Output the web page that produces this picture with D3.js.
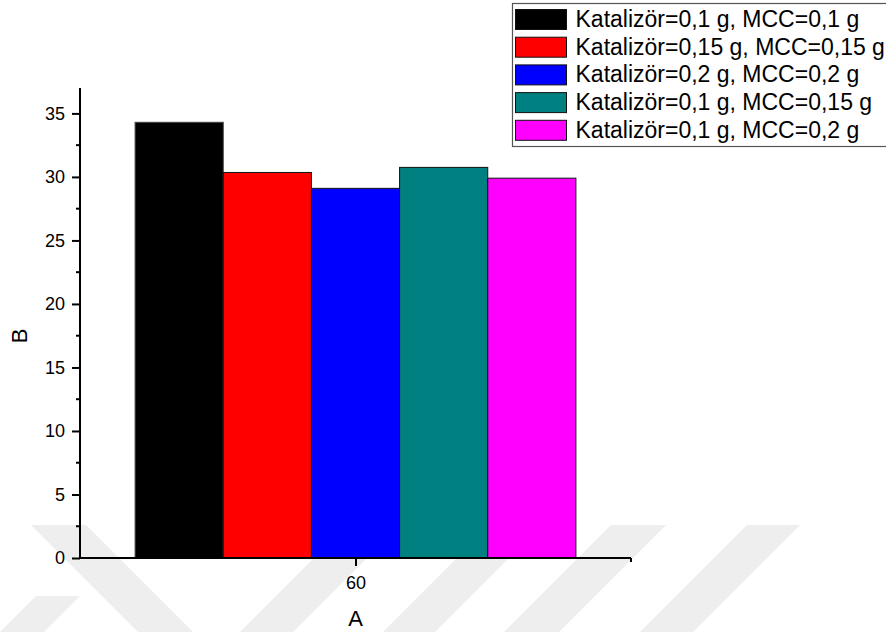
<!DOCTYPE html>
<html>
<head>
<meta charset="utf-8">
<script src="https://cdn.jsdelivr.net/npm/d3@7"></script>
<style>
  html, body { margin: 0; padding: 0; background: #fff; }
  svg { display: block; }
  text { font-family: Arial, "Liberation Sans", sans-serif; fill: #000; }
</style>
</head>
<body>
<script>
// Category on the x axis and the five catalyst / MCC combinations
const categories = [60];
const seriesNames = [
  "Katalizör=0,1 g, MCC=0,1 g",
  "Katalizör=0,15 g, MCC=0,15 g",
  "Katalizör=0,2 g, MCC=0,2 g",
  "Katalizör=0,1 g, MCC=0,15 g",
  "Katalizör=0,1 g, MCC=0,2 g"
];
const seriesValues = [34.3, 30.35, 29.1, 30.75, 29.9];
const seriesColors = ["#000000", "#ff0000", "#0000ff", "#008080", "#ff00ff"];
const yTicks = [0, 5, 10, 15, 20, 25, 30, 35];
const xTicks = [60];
const xLabel = "A";
const yLabel = "B";

const W = 886, H = 632;
const svg = d3.select("body").append("svg").attr("width", W).attr("height", H);

// faint diagonal background stripes
const wm = svg.append("g").attr("fill", "#eeeeee");
function stripe(xBottom, dir, yTop, yBot, width) {
  const h = yBot - yTop;
  const xt = xBottom + dir * h;
  return [[xBottom, yBot], [xBottom + width, yBot], [xt + width, yTop], [xt, yTop]];
}
const stripes = [
  stripe(138, -1, 525, 632, 55),
  stripe(0, 1, 596, 632, 44),
  stripe(240, 1, 525, 632, 53),
  stripe(383, 1, 525, 632, 52),
  stripe(504, 1, 525, 632, 55),
  stripe(640, 1, 525, 632, 53)
];
wm.selectAll("polygon").data(stripes).join("polygon")
  .attr("points", d => d.map(p => p.join(",")).join(" "));

// plot frame and scales
const pLeft = 80, pRight = 631, pTop = 88, pBottom = 558;
const x = d3.scaleLinear().domain([40, 80]).range([pLeft, pRight]);
const y = d3.scaleLinear().domain([0, 37]).range([pBottom, pTop]);
const groupHalf = 16;
const sub = d3.scaleBand().domain(seriesNames)
  .range([x(categories[0] - groupHalf), x(categories[0] + groupHalf)]).padding(0);

// bars
const bars = svg.append("g");
categories.forEach(c => {
  bars.selectAll("rect.b" + c).data(seriesNames).join("rect")
    .attr("x", d => sub(d))
    .attr("width", sub.bandwidth())
    .attr("y", (d, i) => y(seriesValues[i]))
    .attr("height", (d, i) => y(0) - y(seriesValues[i]))
    .attr("fill", (d, i) => seriesColors[i])
    .attr("stroke", (d, i) => i === 0 ? "#444" : "#111")
    .attr("stroke-width", 1);
});

// y axis
const yAxis = svg.append("g").attr("transform", `translate(${pLeft},0)`)
  .call(d3.axisLeft(y).tickValues(yTicks).tickSize(8).tickPadding(7));
yAxis.select(".domain").attr("d", `M0,${pTop}V${pBottom}`).attr("stroke-width", 2);
yAxis.selectAll(".tick line").attr("stroke-width", 2);
yAxis.selectAll(".tick text").attr("font-size", 18).attr("font-family", "Arial, 'Liberation Sans', sans-serif");
// minor y ticks
const yMinor = d3.range(2.5, 37, 5);
yAxis.selectAll("line.minor").data(yMinor).join("line")
  .attr("class", "minor")
  .attr("x1", -4).attr("x2", 0)
  .attr("y1", d => y(d)).attr("y2", d => y(d))
  .attr("stroke", "#000").attr("stroke-width", 2);

// x axis
const xAxis = svg.append("g").attr("transform", `translate(0,${pBottom})`)
  .call(d3.axisBottom(x).tickValues(xTicks).tickSize(8).tickPadding(10));
xAxis.select(".domain").attr("d", `M${pLeft},0H${pRight}`).attr("stroke-width", 2);
xAxis.selectAll(".tick line").attr("stroke-width", 2);
xAxis.selectAll(".tick text").attr("font-size", 18).attr("font-family", "Arial, 'Liberation Sans', sans-serif");
xAxis.selectAll("line.minor").data([x.domain()[1]]).join("line")
  .attr("class", "minor")
  .attr("x1", d => x(d)).attr("x2", d => x(d))
  .attr("y1", 0).attr("y2", 4)
  .attr("stroke", "#000").attr("stroke-width", 2);

// axis titles
svg.append("text").attr("x", x(60)).attr("y", 626)
  .attr("text-anchor", "middle").attr("font-size", 22).text(xLabel);
svg.append("text").attr("transform", "translate(27,336) rotate(-90)")
  .attr("text-anchor", "middle").attr("font-size", 22).text(yLabel);

// legend
const lg = svg.append("g").attr("transform", "translate(512.5,3.5)");
lg.append("rect").attr("x", 0).attr("y", 0).attr("width", 400).attr("height", 143)
  .attr("fill", "#fff").attr("stroke", "#555").attr("stroke-width", 1.2);
const rows = lg.selectAll("g.row").data(seriesNames).join("g")
  .attr("class", "row")
  .attr("transform", (d, i) => `translate(0,${6 + i * 27.7})`);
rows.append("rect").attr("x", 3).attr("y", 0).attr("width", 51).attr("height", 20)
  .attr("fill", (d, i) => seriesColors[i]).attr("stroke", "#111").attr("stroke-width", 1);
rows.append("text").attr("x", 63).attr("y", 17.5).attr("font-size", 23).text(d => d);
</script>
</body>
</html>
